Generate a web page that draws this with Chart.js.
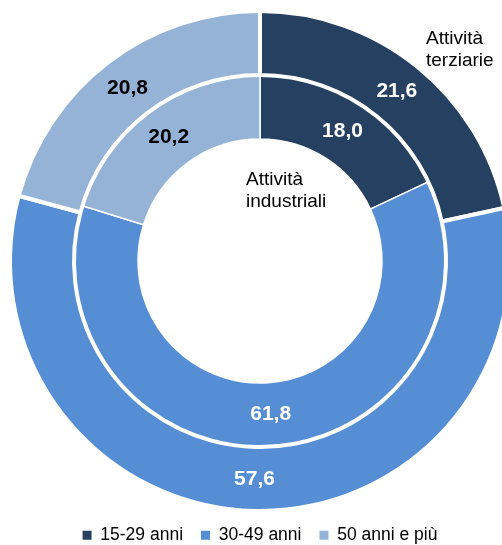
<!DOCTYPE html>
<html>
<head>
<meta charset="utf-8">
<script src="https://cdn.jsdelivr.net/npm/chart.js@4/dist/chart.umd.min.js"></script>
<style>
  html, body { margin: 0; padding: 0; background: #fff; overflow: hidden; }
  .wrap { position: relative; width: 502px; height: 545px; overflow: hidden; }
  .box { position: absolute; left: 0; top: 0; width: 520px; height: 554px; }
</style>
</head>
<body>
<div class="wrap">
  <div class="box"><canvas id="age-chart"></canvas></div>
</div>
<script>
const ageGroups = ['15-29 anni', '30-49 anni', '50 anni e più'];
const terziarie = [21.6, 57.6, 20.8];
const industriali = [18.0, 61.8, 20.2];
const ringNames = [['Attività', 'terziarie'], ['Attività', 'industriali']];
const sliceColors = ['#264061', '#558ED5', '#95B3D7'];
const labelColors = ['#ffffff', '#ffffff', '#000000'];

const plainFont = "'Liberation Sans', Arial, sans-serif";

function formatValue(value) {
  return value.toFixed(1).replace('.', ',');
}

// value labels in the middle of every slice, plus the ring captions
const sliceLabels = {
  id: 'sliceLabels',
  afterDatasetsDraw(chart) {
    const ctx = chart.ctx;
    ctx.save();
    ctx.font = `bold 21px ${plainFont}`;
    ctx.textAlign = 'center';
    ctx.textBaseline = 'middle';
    chart.data.datasets.forEach((dataset, i) => {
      chart.getDatasetMeta(i).data.forEach((arc, j) => {
        const pos = arc.tooltipPosition();
        ctx.fillStyle = labelColors[j];
        ctx.fillText(formatValue(dataset.data[j]), pos.x, pos.y);
      });
    });

    ctx.font = `19px ${plainFont}`;
    ctx.textAlign = 'left';
    ctx.textBaseline = 'alphabetic';
    ctx.fillStyle = '#000';
    ringNames[0].forEach((line, k) => ctx.fillText(line, 426, 44 + k * 22));
    ringNames[1].forEach((line, k) => ctx.fillText(line, 246, 185 + k * 22));
    ctx.restore();
  }
};

const ageChart = new Chart(document.getElementById('age-chart'), {
  type: 'doughnut',
  data: {
    labels: ageGroups,
    datasets: [
      {
        label: ringNames[0].join(' '),
        data: terziarie,
        backgroundColor: sliceColors,
        borderColor: '#ffffff',
        borderWidth: 4
      },
      {
        label: ringNames[1].join(' '),
        data: industriali,
        backgroundColor: sliceColors,
        borderColor: '#ffffff',
        borderWidth: 1.5
      }
    ]
  },
  options: {
    responsive: true,
    maintainAspectRatio: false,
    animation: false,
    radius: 250,
    cutout: '48.8%',
    clip: false,
    layout: { padding: { top: 13.5 } },
    plugins: {
      tooltip: { enabled: false },
      legend: {
        position: 'bottom',
        labels: {
          boxWidth: 9,
          boxHeight: 9,
          padding: 18,
          color: '#000',
          font: { family: plainFont, size: 17.5 },
          generateLabels: () => ageGroups.map((text, i) => ({
            text: text,
            fillStyle: sliceColors[i],
            strokeStyle: sliceColors[i],
            lineWidth: 0,
            fontColor: '#000',
            index: i
          }))
        }
      }
    }
  },
  plugins: [sliceLabels]
});
</script>
</body>
</html>
